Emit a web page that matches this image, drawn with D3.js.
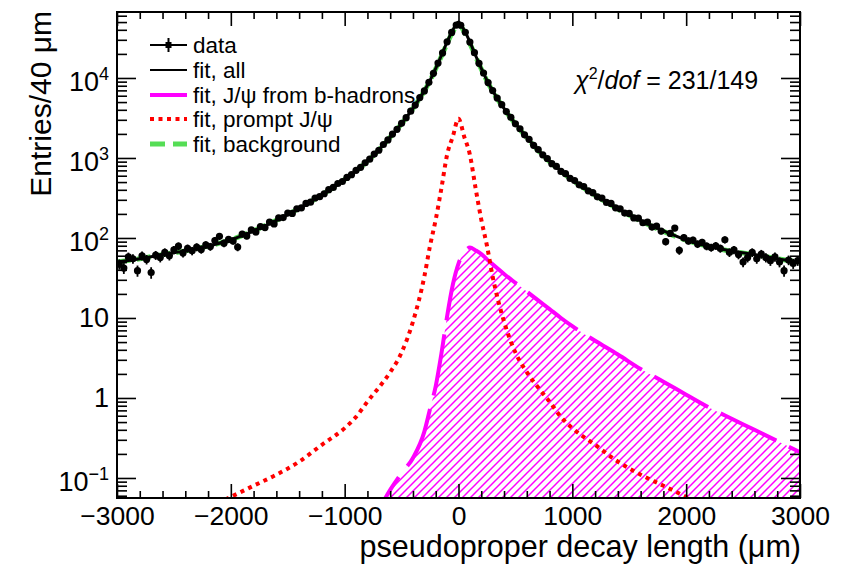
<!DOCTYPE html>
<html>
<head>
<meta charset="utf-8">
<script src="https://cdn.jsdelivr.net/npm/d3@7"></script>
<style>
  body { margin: 0; background: #fff; }
  text { font-family: "Liberation Sans", Arial, Helvetica, sans-serif; fill: #000; }
  .tick text { font-size: 26.5px; }
</style>
</head>
<body>
<div id="chart"></div>
<script>
// data: entries per 40 um bin, from -3000 to 3000 um
const binWidth = 40;
const counts = [
  47, 42, 58, 55, 39, 60, 54, 37, 61, 57,
  66, 60, 71, 79, 65, 74, 69, 77, 72, 82,
  78, 93, 105, 86, 96, 92, 77, 112, 106, 126,
  119, 139, 135, 158, 150, 178, 180, 205, 203, 232,
  238, 270, 280, 316, 328, 357, 402, 428, 480, 508,
  572, 618, 700, 765, 872, 965, 1120, 1250, 1475, 1680,
  1990, 2280, 2710, 3190, 3850, 4580, 5690, 6880, 8830, 11450,
  15350, 20550, 28300, 37100, 45800,
  45600, 37300, 28100, 20700, 15250, 11550, 8760, 6950, 5620, 4640,
  3800, 3230, 2670, 2320, 1950, 1710, 1440, 1275, 1095, 985,
  850, 785, 680, 637, 555, 522, 462, 440, 388, 368,
  327, 315, 278, 270, 238, 232, 205, 203, 178, 177,
  155, 158, 137, 141, 122, 90, 114, 133, 70, 101,
  92, 94, 84, 88, 79, 76, 80, 74, 95, 66,
  71, 62, 50, 57, 66, 55, 63, 57, 52, 58,
  50, 39, 53, 48, 52
];

// fit curves, read at these positions (um)
const fitX = [-3000, -2800, -2600, -2400, -2200, -2000, -1800, -1600, -1400, -1200,
  -1000, -900, -800, -700, -600, -500, -400, -300, -250, -200, -150, -100, -50,
  0, 50, 100, 150, 200, 250, 300, 400, 500, 600, 700, 800, 900,
  1000, 1200, 1400, 1600, 1800, 2000, 2200, 2400, 2600, 2800, 3000];
const fitAll = [50, 55, 62, 69, 79, 95, 123, 166, 234, 347,
  537, 692, 912, 1260, 1820, 2690, 4170, 6920, 9330, 13200, 19100, 28200, 39800,
  50100, 39800, 28200, 19100, 13200, 9330, 6920, 4170, 2690, 1820, 1260, 912, 692,
  537, 347, 234, 166, 123, 95, 79, 69, 62, 55, 50];
const fitBkg = [50, 55, 62, 69, 79, 95, 123, 166, 234, 347,
  537, 692, 911, 1258, 1818, 2686, 4160, 6890, 9250, 13030, 18680, 27090, 37920,
  46950, 37880, 27020, 18610, 12970, 9200, 6840, 4125, 2658, 1797, 1242, 898, 681,
  529, 342, 230, 164, 121, 94, 78, 68, 62, 55, 50];
const fitPrompt = [0.013, 0.017, 0.023, 0.031, 0.042, 0.058, 0.08, 0.11, 0.16, 0.26,
  0.42, 0.58, 0.9, 1.35, 2.1, 3.7, 9, 33, 80, 170, 420, 1100, 1850,
  3100, 1850, 1100, 420, 170, 80, 33, 9, 3.7, 2.1, 1.35, 0.9, 0.58,
  0.42, 0.26, 0.16, 0.11, 0.08, 0.058, 0.042, 0.031, 0.023, 0.017, 0.013];
const fitNonprompt = [null, null, null, null, null, null, null, null, null, null,
  null, null, 0.022, 0.040, 0.071, 0.115, 0.178, 0.38, 0.73, 1.41, 3.6, 10.5, 26,
  47.9, 66, 75.9, 70, 63.1, 54, 46.8, 35.5, 27.5, 21.4, 16.6, 12.9, 10.0,
  7.9, 5.2, 3.5, 2.3, 1.6, 1.1, 0.76, 0.55, 0.40, 0.29, 0.21];

const xMajor = [-3000, -2000, -1000, 0, 1000, 2000, 3000];
const yDecades = [0.1, 1, 10, 100, 1000, 10000];
const yLabels = [["10", "−1"], ["1", ""], ["10", ""], ["10", "2"], ["10", "3"], ["10", "4"]];
const legendNames = ["data", "fit, all", "fit, J/ψ from b-hadrons", "fit, prompt J/ψ", "fit, background"];

const width = 851, height = 570;
const pLeft = 117, pRight = 800, pTop = 12, pBottom = 498;

const magenta = "#ff00ff", red = "#ff0000", green = "#55dd55";

const svg = d3.select("#chart").append("svg")
    .attr("width", width)
    .attr("height", height);

const x = d3.scaleLinear().domain([-3000, 3000]).range([pLeft, pRight]);
const y = d3.scaleLog().domain([0.0562, 66800]).range([pBottom, pTop]);

const defs = svg.append("defs");
defs.append("clipPath").attr("id", "plot-clip")
    .append("rect")
    .attr("x", pLeft).attr("y", pTop)
    .attr("width", pRight - pLeft).attr("height", pBottom - pTop);
defs.append("pattern")
    .attr("id", "hatch")
    .attr("patternUnits", "userSpaceOnUse")
    .attr("width", 8).attr("height", 8)
    .append("path")
    .attr("d", "M-1,1 l2,-2 M0,8 l8,-8 M7,9 l2,-2")
    .attr("stroke", magenta)
    .attr("stroke-width", 1.5);

const plot = svg.append("g").attr("clip-path", "url(#plot-clip)");

const curveLine = vals => d3.line()
    .defined((d, i) => vals[i] != null)
    .x(d => x(d))
    .y((d, i) => y(vals[i]))
    .curve(d3.curveMonotoneX)(fitX);

// b-hadron component: hatched area + long dashed line
plot.append("path")
    .attr("d", d3.area()
        .defined((d, i) => fitNonprompt[i] != null)
        .x(d => x(d))
        .y0(pBottom)
        .y1((d, i) => y(fitNonprompt[i]))
        .curve(d3.curveMonotoneX)(fitX))
    .attr("fill", "url(#hatch)");
plot.append("path")
    .attr("d", curveLine(fitNonprompt))
    .attr("fill", "none")
    .attr("stroke", magenta)
    .attr("stroke-width", 4)
    .attr("stroke-dasharray", "62,14");

plot.append("path")
    .attr("d", curveLine(fitPrompt))
    .attr("fill", "none")
    .attr("stroke", red)
    .attr("stroke-width", 4)
    .attr("stroke-dasharray", "4,4.5");

plot.append("path")
    .attr("d", curveLine(fitBkg))
    .attr("fill", "none")
    .attr("stroke", green)
    .attr("stroke-width", 5)
    .attr("stroke-dasharray", "14,6");

plot.append("path")
    .attr("d", curveLine(fitAll))
    .attr("fill", "none")
    .attr("stroke", "#000")
    .attr("stroke-width", 3);

// data points with sqrt(N) errors
const centers = d3.range(counts.length).map(i => -3000 + binWidth * (i + 0.5));
const pts = plot.append("g").selectAll("g")
    .data(counts)
    .enter()
    .append("g");
pts.append("line")
    .attr("x1", (d, i) => x(centers[i]))
    .attr("x2", (d, i) => x(centers[i]))
    .attr("y1", d => y(d + Math.sqrt(d)))
    .attr("y2", d => y(d - Math.sqrt(d)))
    .attr("stroke", "#000")
    .attr("stroke-width", 1.8);
pts.append("circle")
    .attr("cx", (d, i) => x(centers[i]))
    .attr("cy", d => y(d))
    .attr("r", 3.6)
    .attr("fill", "#000");

// axes
const xMinor = d3.range(-3000, 3001, 200).filter(v => v % 1000 !== 0);
const yMinor = [];
[0.01, 0.1, 1, 10, 100, 1000, 10000].forEach(dec => {
    for (let k = 2; k <= 9; k++) {
        const v = dec * k;
        if (v > y.domain()[0] && v < y.domain()[1]) yMinor.push(v);
    }
});

function styleAxis(g) {
    g.select(".domain").remove();
    g.attr("font-size", null).attr("font-family", null);
    g.selectAll(".tick line").attr("stroke-width", 1.6);
    g.selectAll(".tick text").filter(function () { return this.textContent === ""; }).remove();
}

svg.append("g")
    .attr("transform", "translate(0," + pBottom + ")")
    .call(d3.axisBottom(x).tickValues(xMajor).tickSizeInner(-14).tickSizeOuter(0)
        .tickPadding(8).tickFormat(d3.format("d")))
    .call(styleAxis);
svg.append("g")
    .attr("transform", "translate(0," + pBottom + ")")
    .call(d3.axisBottom(x).tickValues(xMinor).tickSizeInner(-7).tickSizeOuter(0).tickFormat(""))
    .call(styleAxis);
svg.append("g")
    .attr("transform", "translate(0," + pTop + ")")
    .call(d3.axisTop(x).tickValues(xMajor).tickSizeInner(-14).tickSizeOuter(0).tickFormat(""))
    .call(styleAxis);
svg.append("g")
    .attr("transform", "translate(0," + pTop + ")")
    .call(d3.axisTop(x).tickValues(xMinor).tickSizeInner(-7).tickSizeOuter(0).tickFormat(""))
    .call(styleAxis);

svg.append("g")
    .attr("transform", "translate(" + pLeft + ",0)")
    .call(d3.axisLeft(y).tickValues(yDecades).tickSizeInner(-19).tickSizeOuter(0).tickFormat(""))
    .call(styleAxis);
svg.append("g")
    .attr("transform", "translate(" + pLeft + ",0)")
    .call(d3.axisLeft(y).tickValues(yMinor).tickSizeInner(-10).tickSizeOuter(0).tickFormat(""))
    .call(styleAxis);
svg.append("g")
    .attr("transform", "translate(" + pRight + ",0)")
    .call(d3.axisRight(y).tickValues(yDecades).tickSizeInner(-19).tickSizeOuter(0).tickFormat(""))
    .call(styleAxis);
svg.append("g")
    .attr("transform", "translate(" + pRight + ",0)")
    .call(d3.axisRight(y).tickValues(yMinor).tickSizeInner(-10).tickSizeOuter(0).tickFormat(""))
    .call(styleAxis);

// y tick labels with exponents
const yl = svg.append("g").selectAll("text")
    .data(yDecades)
    .enter()
    .append("text")
    .attr("x", 109)
    .attr("y", (d, i) => y(d) + 9.5 + (yLabels[i][1] ? 4 : 0))
    .attr("text-anchor", "end")
    .attr("font-size", 27);
yl.append("tspan").text((d, i) => yLabels[i][0]);
yl.append("tspan")
    .attr("font-size", 18)
    .attr("dy", -11)
    .text((d, i) => yLabels[i][1]);

svg.append("rect")
    .attr("x", pLeft).attr("y", pTop)
    .attr("width", pRight - pLeft).attr("height", pBottom - pTop)
    .attr("fill", "none")
    .attr("stroke", "#000")
    .attr("stroke-width", 2);

// axis titles
svg.append("text")
    .attr("x", 801).attr("y", 557)
    .attr("text-anchor", "end")
    .attr("font-size", 30.5)
    .text("pseudoproper decay length (μm)");
svg.append("text")
    .attr("transform", "rotate(-90)")
    .attr("x", -11).attr("y", 51)
    .attr("text-anchor", "end")
    .attr("font-size", 30)
    .text("Entries/40 μm");

// chi2 label
const chi = svg.append("text").attr("x", 575).attr("y", 89).attr("font-size", 25);
chi.append("tspan").attr("font-style", "italic").text("χ");
chi.append("tspan").attr("font-size", 16).attr("dy", -10).text("2");
chi.append("tspan").attr("dy", 10).text("/");
chi.append("tspan").attr("font-style", "italic").text("dof");
chi.append("tspan").text(" = 231/149");

// legend
const rowY = [45, 70, 95, 119, 144];
const lg = svg.append("g");
lg.selectAll("text")
    .data(legendNames)
    .enter()
    .append("text")
    .attr("x", 193)
    .attr("y", (d, i) => rowY[i] + 8)
    .attr("font-size", 22.5)
    .text(d => d);
lg.append("line").attr("x1", 150).attr("x2", 187).attr("y1", rowY[0]).attr("y2", rowY[0])
    .attr("stroke", "#000").attr("stroke-width", 2);
lg.append("line").attr("x1", 168.5).attr("x2", 168.5).attr("y1", rowY[0] - 7).attr("y2", rowY[0] + 7)
    .attr("stroke", "#000").attr("stroke-width", 2);
lg.append("rect").attr("x", 165.5).attr("y", rowY[0] - 3).attr("width", 6).attr("height", 6).attr("fill", "#000");
lg.append("line").attr("x1", 150).attr("x2", 187).attr("y1", rowY[1]).attr("y2", rowY[1])
    .attr("stroke", "#000").attr("stroke-width", 2);
lg.append("line").attr("x1", 150).attr("x2", 187).attr("y1", rowY[2]).attr("y2", rowY[2])
    .attr("stroke", magenta).attr("stroke-width", 4);
lg.append("line").attr("x1", 150).attr("x2", 187).attr("y1", rowY[3]).attr("y2", rowY[3])
    .attr("stroke", red).attr("stroke-width", 4).attr("stroke-dasharray", "4,4.5");
lg.append("line").attr("x1", 150).attr("x2", 187).attr("y1", rowY[4]).attr("y2", rowY[4])
    .attr("stroke", green).attr("stroke-width", 5).attr("stroke-dasharray", "15,8");
</script>
</body>
</html>
